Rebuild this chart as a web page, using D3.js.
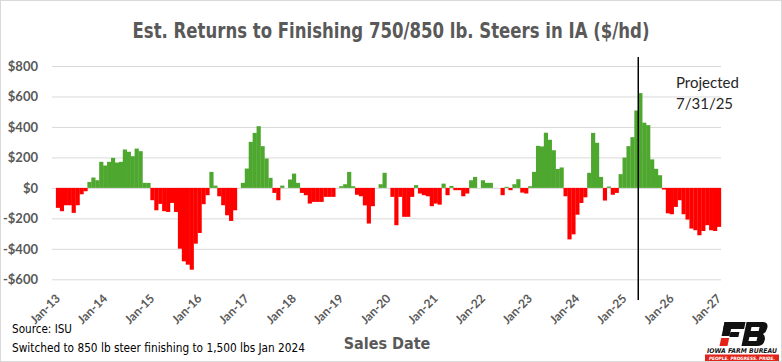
<!DOCTYPE html>
<html>
<head>
<meta charset="utf-8">
<script src="https://cdn.jsdelivr.net/npm/d3@7"></script>
<style>
  body { margin: 0; background: #fff; }
  svg { display: block; }
</style>
</head>
<body>
<svg id="chart" width="782" height="362"></svg>
<script>
// Est. returns ($/hd), one value per month
const returns2013 = [-131, -153, -114, -114, -164, -114, -42, -22, 39, 68, 50, 171];
const returns2014 = [147, 171, 197, 166, 171, 252, 237, 208, 258, 241, 33, 33];
const returns2015 = [-81, -147, -105, -153, -158, -99, -158, -399, -482, -504, -537, -366];
const returns2016 = [-296, -107, -48, 105, 15, -55, -114, -180, -217, -147, 0, 33];
const returns2017 = [127, 302, 361, 405, 274, 193, 66, -33, -81, 15, 0, 55];
const returns2018 = [94, 33, -33, -48, -103, -92, -92, -92, -59, -59, -59, 0];
const returns2019 = [11, 24, 105, 11, -45, -55, -115, -234, -120, 0, 24, 99];
const returns2020 = [0, -59, -245, -59, -190, -190, -59, 18, -37, -48, -55, -120];
const returns2021 = [-103, -110, 28, -48, 13, -15, -15, -55, -37, 50, 72, 0];
const returns2022 = [50, 33, 33, 0, 0, -48, 7, -15, 24, 57, -31, -37];
const returns2023 = [11, 105, 276, 272, 362, 316, 247, 124, 134, -55, -338, -305];
const returns2024 = [-176, -99, -62, 99, 361, 296, 72, -83, 9, -45, -33, 90];
const returns2025 = [199, 274, 333, 508, 622, 428, 412, 187, 125, 83, -11, -167];
const returns2026 = [-173, -125, -81, -173, -208, -267, -278, -311, -283, -245, -278, -283];
const returns2027 = [-256];

const yTicks = [-600, -400, -200, 0, 200, 400, 600, 800];
const projLabel = ["Projected", "7/31/25"];
const projDate = new Date(2025, 4, 1);
const titleText = "Est. Returns to Finishing 750/850 lb. Steers in IA ($/hd)";
const sourceLines = ["Source: ISU", "Switched to 850 lb steer finishing to 1,500 lbs Jan 2024"];

const allReturns = [].concat(returns2013, returns2014, returns2015, returns2016, returns2017,
    returns2018, returns2019, returns2020, returns2021, returns2022, returns2023,
    returns2024, returns2025, returns2026, returns2027);
const months = d3.timeMonth.range(new Date(2013, 0, 1), new Date(2027, 1, 1));
const data = months.map((m, i) => ({date: m, value: allReturns[i]}));

const area = {left: 52, right: 721, top: 66, bottom: 279.3, barLeft: 55.9, barRight: 720.9};
const narrowFont = "'Liberation Sans Narrow', 'DejaVu Sans Condensed', Roboto, sans-serif";

const svg = d3.select("#chart");

// frame
svg.append("rect")
   .attr("x", 0.5).attr("y", 0.5).attr("width", 781).attr("height", 361)
   .attr("fill", "#fff").attr("stroke", "#d9d9d9");

const scX = d3.scaleBand()
    .domain(months)
    .range([area.barLeft, area.barRight])
    .padding(0);
const scY = d3.scaleLinear()
    .domain([-600, 800])
    .range([area.bottom, area.top]);

// y axis + gridlines
const axisY = d3.axisLeft(scY)
    .tickValues(yTicks)
    .tickSize(-(area.right - area.left))
    .tickPadding(14)
    .tickFormat(d => (d < 0 ? "-$" : "$") + Math.abs(d));

const gY = svg.append("g")
    .attr("transform", `translate(${area.left}, 0)`)
    .call(axisY);
gY.select(".domain").remove();
gY.selectAll("line").attr("stroke", "#d9d9d9").attr("stroke-width", 1);
gY.selectAll("text")
  .style("font-family", "Lato, 'Open Sans', sans-serif")
  .style("font-weight", "bold")
  .style("font-size", "13px")
  .attr("fill", "#595959");

// bars
svg.append("g")
   .selectAll("rect")
   .data(data.filter(d => d.value !== 0))
   .enter()
   .append("rect")
   .attr("x", d => scX(d.date))
   .attr("width", scX.bandwidth() + 0.25)
   .attr("y", d => scY(Math.max(0, d.value)))
   .attr("height", d => Math.abs(scY(d.value) - scY(0)))
   .attr("fill", d => d.value > 0 ? "#4ea72e" : "#ff0000");

// x axis labels (January of every year)
const janMonths = months.filter(m => m.getMonth() === 0);
const axisX = d3.axisBottom(scX)
    .tickValues(janMonths)
    .tickSize(0)
    .tickFormat(d3.timeFormat("%b-%y"));

const gX = svg.append("g")
    .attr("transform", `translate(0, ${area.bottom})`)
    .call(axisX);
gX.select(".domain").remove();
gX.selectAll("text")
  .attr("x", 0).attr("y", 0).attr("dy", "0.35em")
  .attr("transform", "translate(0, 17) rotate(-45)")
  .style("text-anchor", "end")
  .style("font-family", "Lato, 'Open Sans', sans-serif")
  .style("font-weight", "bold")
  .style("font-size", "12px")
  .attr("fill", "#595959");

// projection line
const xProj = scX(projDate);
svg.append("line")
   .attr("x1", xProj).attr("x2", xProj)
   .attr("y1", 57).attr("y2", 300)
   .attr("stroke", "#000").attr("stroke-width", 1.5);

svg.append("text")
   .attr("x", 676).attr("y", 88)
   .style("font-family", "Lato, sans-serif").style("font-size", "15px")
   .attr("fill", "#262626")
   .selectAll("tspan")
   .data(projLabel)
   .enter()
   .append("tspan")
   .attr("x", 676)
   .attr("dy", (d, i) => i === 0 ? 0 : 21)
   .text(d => d);

// title
svg.append("text")
   .attr("x", 391).attr("y", 38)
   .attr("text-anchor", "middle")
   .attr("textLength", 517).attr("lengthAdjust", "spacingAndGlyphs")
   .style("font-family", narrowFont)
   .style("font-weight", "bold").style("font-size", "22px")
   .attr("fill", "#595959")
   .text(titleText);

// axis title
svg.append("text")
   .attr("x", 387).attr("y", 349)
   .attr("text-anchor", "middle")
   .style("font-family", narrowFont)
   .style("font-weight", "bold").style("font-size", "16px")
   .attr("fill", "#595959")
   .text("Sales Date");

// source notes
svg.append("text")
   .attr("x", 12).attr("y", 333)
   .attr("textLength", 60).attr("lengthAdjust", "spacingAndGlyphs")
   .style("font-family", narrowFont)
   .style("font-size", "13px").attr("fill", "#000")
   .text(sourceLines[0]);
svg.append("text")
   .attr("x", 12).attr("y", 352)
   .attr("textLength", 293).attr("lengthAdjust", "spacingAndGlyphs")
   .style("font-family", narrowFont)
   .style("font-size", "13px").attr("fill", "#000")
   .text(sourceLines[1]);

// Iowa Farm Bureau logo (simplified block mark)
const logo = svg.append("g").attr("transform", "translate(705, 320)");
const mark = logo.append("g").attr("transform", "translate(6, 0) skewX(-12)");
mark.append("rect").attr("x", 14).attr("y", 2).attr("width", 21).attr("height", 7).attr("fill", "#111");
mark.append("rect").attr("x", 14).attr("y", 2).attr("width", 8).attr("height", 14).attr("fill", "#111");
mark.append("rect").attr("x", 22).attr("y", 12).attr("width", 9).attr("height", 5).attr("fill", "#111");
mark.append("rect").attr("x", 14).attr("y", 18).attr("width", 8).attr("height", 8).attr("fill", "#e2231a");
mark.append("path")
    .attr("d", "M36,2 H52 Q58,2 58,8 Q58,12 55,14 Q58,16 58,20 Q58,26 52,26 H36 Z")
    .attr("fill", "#111");
mark.append("rect").attr("x", 42).attr("y", 7).attr("width", 8).attr("height", 4).attr("fill", "#fff");
mark.append("rect").attr("x", 42).attr("y", 17).attr("width", 8).attr("height", 4).attr("fill", "#fff");

logo.append("text")
    .attr("x", 2).attr("y", 33)
    .attr("textLength", 70).attr("lengthAdjust", "spacingAndGlyphs")
    .style("font-family", "'DejaVu Sans', sans-serif")
    .style("font-weight", "bold").style("font-style", "italic").style("font-size", "6.5px")
    .attr("fill", "#111")
    .text("IOWA FARM BUREAU");
logo.append("rect")
    .attr("x", 0).attr("y", 34.5).attr("width", 74).attr("height", 6.5)
    .attr("fill", "#e2231a");
logo.append("text")
    .attr("x", 4).attr("y", 39.6)
    .attr("textLength", 66).attr("lengthAdjust", "spacingAndGlyphs")
    .style("font-family", "'DejaVu Sans', sans-serif")
    .style("font-weight", "bold").style("font-style", "italic").style("font-size", "4.5px")
    .attr("fill", "#fff")
    .text("PEOPLE. PROGRESS. PRIDE.");
</script>
</body>
</html>
